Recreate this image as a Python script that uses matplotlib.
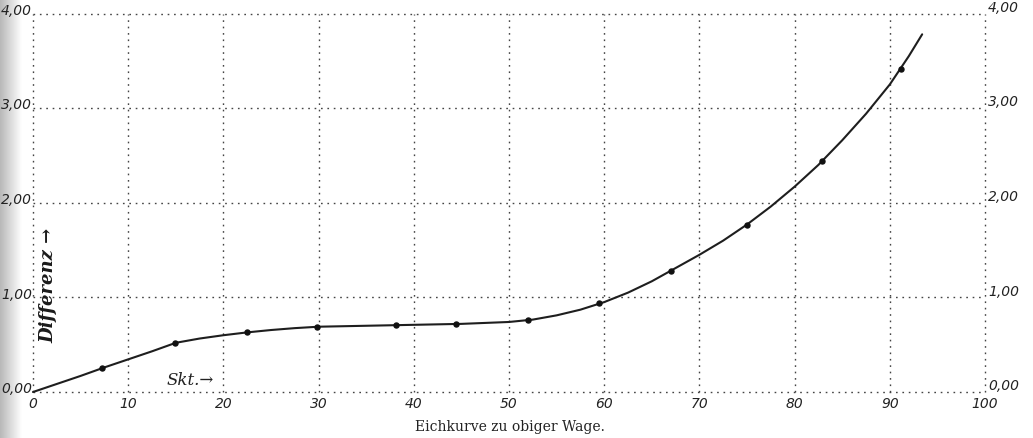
import numpy as np
import matplotlib
matplotlib.use("Agg")
import matplotlib.pyplot as plt

# --- data ---
curve_x = [0, 2.5, 5, 7.5, 10, 12.5, 15, 17.5, 20, 22.5, 25, 27.5, 30, 35, 40, 45,
           50, 52.5, 55, 57.5, 60, 62.5, 65, 67.5, 70, 72.5, 75, 77.5, 80, 82.5,
           85, 87.5, 90, 92, 93.4]
curve_y = [0.00, 0.085, 0.17, 0.26, 0.345, 0.43, 0.52, 0.565, 0.60, 0.63, 0.655,
           0.675, 0.69, 0.70, 0.71, 0.72, 0.74, 0.765, 0.81, 0.87, 0.95, 1.05,
           1.17, 1.31, 1.45, 1.60, 1.77, 1.96, 2.17, 2.40, 2.66, 2.94, 3.25,
           3.55, 3.78]
point_x = [7.3, 14.9, 22.5, 29.8, 38.1, 44.4, 52.0, 59.5, 67.0, 75.0, 82.9, 91.2]
point_y = [0.25, 0.52, 0.63, 0.69, 0.71, 0.72, 0.76, 0.94, 1.28, 1.77, 2.44, 3.41]

x_ticks = [0, 10, 20, 30, 40, 50, 60, 70, 80, 90, 100]
y_ticks = [0, 1, 2, 3, 4]
y_labels = ["0,00", "1,00", "2,00", "3,00", "4,00"]

caption = "Eichkurve zu obiger Wage."
ylabel = "Differenz \u2192"
xlabel = "Skt.\u2192"

W, H = 1033, 438
fig = plt.figure(figsize=(W / 100, H / 100), dpi=100)
fig.patch.set_facecolor("white")

# scan shadow at the left edge
shadow = fig.add_axes([0, 0, 22 / W, 1])
grad = np.linspace(0.72, 1.0, 64)[None, :]
shadow.imshow(grad, aspect="auto", cmap="gray", vmin=0, vmax=1, extent=[0, 1, 0, 1])
shadow.axis("off")

x0, x1 = 33, 985
ytop, ybot = 13.5, 392
ax = fig.add_axes([x0 / W, (H - ybot) / H, (x1 - x0) / W, (ybot - ytop) / H])
ax.set_facecolor("none")
ax.set_xlim(0, 100)
ax.set_ylim(0, 4)
for s in ax.spines.values():
    s.set_visible(False)
ax.set_xticks([])
ax.set_yticks([])

grid_kw = dict(color="#444444", linestyle=(0, (1.2, 3.4)), linewidth=1.0,
               zorder=1, clip_on=False)
for xv in x_ticks:
    ax.axvline(xv, **grid_kw)
for yv in y_ticks:
    ax.axhline(yv, **grid_kw)

ax.plot(curve_x, curve_y, color="#1e1e1e", linewidth=1.5, zorder=3,
        solid_capstyle="round", clip_on=False)
ax.plot(point_x, point_y, "o", color="#111111", markersize=3.6, zorder=4)

tick_font = dict(family="DejaVu Sans", style="italic", fontsize=10, color="#222222")
for xv in x_ticks:
    ax.text(xv, -0.13, str(xv), ha="center", va="center", **tick_font)
for yv, lab in zip(y_ticks, y_labels):
    ax.text(-0.1, yv + 0.03, lab, ha="right", va="center", **tick_font)
    ax.text(100.3, yv + 0.06, lab, ha="left", va="center", **tick_font)

ax.text(16.5, 0.12, xlabel, ha="center", va="center", family="DejaVu Serif",
        style="italic", fontsize=12, color="#222222")
ax.text(1.6, 1.13, ylabel, ha="center", va="center", rotation=90,
        family="DejaVu Serif", style="italic", fontsize=13, fontweight="bold",
        color="#1a1a1a")

fig.text(510 / W, 1 - 427 / H, caption, ha="center", va="center",
         family="DejaVu Serif", fontsize=10, color="#222222")

fig.savefig("out.png", dpi=100, facecolor="white")
